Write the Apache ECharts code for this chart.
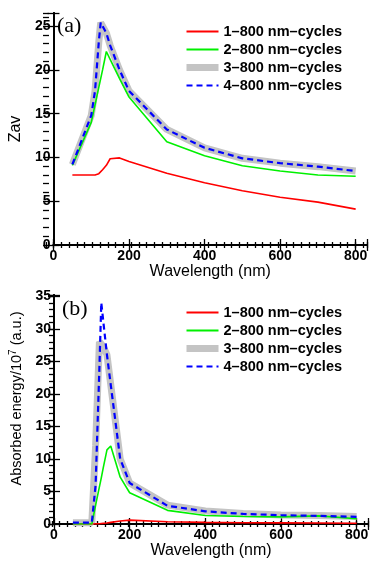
<!DOCTYPE html>
<html>
<head>
<meta charset="utf-8">
<script src="https://cdn.jsdelivr.net/npm/echarts@6/dist/echarts.min.js"></script>
<style>
  html, body { margin: 0; padding: 0; background: #fff; }
  #chart { width: 374px; height: 561px; }
</style>
</head>
<body>
<div id="chart"></div>
<script>
// wavelengths (nm) shared by every curve
const wavelength = [50, 100, 110, 120, 125, 130, 140, 150, 175, 200, 300, 400, 500, 600, 700, 800];

// (a) Zav
const zavRed   = [8.0, 8.0, 8.0, 8.15, 8.35, 8.6, 9.1, 9.85, 9.95, 9.55, 8.2, 7.1, 6.2, 5.45, 4.9, 4.1];
const zavGreen = [9.1, 14.0, 16.0, 18.0, 19.0, 20.0, 22.1, 21.2, 19.0, 16.9, 11.8, 10.2, 9.05, 8.45, 8.0, 7.85];
const zavGray  = [9.2, 14.8, 17.6, 23.2, 25.4, 25.0, 24.2, 22.8, 20.0, 17.6, 13.2, 11.1, 9.9, 9.35, 8.95, 8.45];
const zavBlue  = [9.2, 14.8, 17.6, 23.2, 25.4, 25.0, 24.2, 22.8, 20.0, 17.6, 13.2, 11.1, 9.9, 9.35, 8.95, 8.45];

// (b) absorbed energy / 1e7
const absRed   = [0, 0, 0.02, 0.05, 0.08, 0.1, 0.15, 0.25, 0.45, 0.6, 0.35, 0.25, 0.2, 0.17, 0.15, 0.12];
const absGreen = [0, 0, 2.9, 5.7, 7.1, 8.6, 11.4, 12.0, 7.2, 4.8, 2.1, 1.3, 1.15, 1.1, 1.25, 0.8];
const absGray  = [0.2, 0.2, 12, 28.0, 27.8, 27.3, 26.0, 21.4, 10.0, 6.3, 2.9, 2.0, 1.6, 1.4, 1.3, 1.15];
const absBlue  = [0.2, 0.2, 6, 24, 34.0, 31.3, 26.0, 21.4, 10.0, 6.3, 2.8, 1.95, 1.55, 1.35, 1.25, 1.1];

const names = ['1–800 nm–cycles', '2–800 nm–cycles', '3–800 nm–cycles', '4–800 nm–cycles'];
const xTicks = [0, 200, 400, 600, 800];

const FONT = 'Liberation Sans';
const X_MAX = 830;

function pairs(ys) {
  return wavelength.map((x, i) => [x, ys[i]]);
}

const tick = len => ({ inside: true, length: len, lineStyle: { color: '#000', width: 1.3 } });
const boxLine = { lineStyle: { color: '#000', width: 2 } };

// major grid: box lines, long ticks, labels; minor grid (same place): short ticks only
function xAxes(g, minor) {
  const base = { type: 'value', gridIndex: g, min: 0, max: X_MAX, splitLine: { show: false }, interval: minor ? 20 : 200 };
  if (minor) {
    return [
      Object.assign({}, base, { position: 'bottom', axisLine: { show: false }, axisTick: tick(3), axisLabel: { show: false } }),
      Object.assign({}, base, { position: 'top', axisLine: { show: false }, axisTick: tick(3), axisLabel: { show: false } })
    ];
  }
  return [
    Object.assign({}, base, {
      position: 'bottom', axisLine: boxLine, axisTick: tick(6),
      axisLabel: {
        margin: 4, color: '#000', fontFamily: FONT, fontWeight: 'bold', fontSize: 14,
        formatter: v => xTicks.includes(v) ? String(v) : ''
      },
      name: 'Wavelength (nm)', nameLocation: 'middle', nameGap: 19,
      nameTextStyle: { color: '#000', fontFamily: FONT, fontSize: 16 }
    }),
    Object.assign({}, base, { position: 'top', axisLine: boxLine, axisTick: tick(6), axisLabel: { show: false } })
  ];
}

function yAxes(g, max, minor, name, nameStyle, nameGap) {
  const base = { type: 'value', gridIndex: g, min: 0, max: max, splitLine: { show: false }, interval: minor ? 1 : 5 };
  if (minor) {
    return [
      Object.assign({}, base, { position: 'left', axisLine: { show: false }, axisTick: tick(3), axisLabel: { show: false } }),
      Object.assign({}, base, { position: 'right', axisLine: { show: false }, axisTick: tick(3), axisLabel: { show: false } })
    ];
  }
  return [
    Object.assign({}, base, {
      position: 'left', axisLine: boxLine, axisTick: tick(6),
      axisLabel: {
        margin: 3, color: '#000', fontFamily: FONT, fontWeight: 'bold', fontSize: 14,
        formatter: v => v % 5 === 0 ? String(v) : ''
      },
      name: name, nameLocation: 'middle', nameGap: nameGap, nameTextStyle: nameStyle
    }),
    Object.assign({}, base, { position: 'right', axisLine: boxLine, axisTick: tick(6), axisLabel: { show: false } })
  ];
}

function curves(axisIdx, red, green, gray, blue) {
  const common = { type: 'line', xAxisIndex: axisIdx, yAxisIndex: axisIdx, symbol: 'none', silent: true, animation: false };
  return [
    Object.assign({ name: names[0], data: pairs(red), z: 3, lineStyle: { color: '#ff0000', width: 1.6 }, itemStyle: { color: '#ff0000' } }, common),
    Object.assign({ name: names[1], data: pairs(green), z: 3, lineStyle: { color: '#00f000', width: 1.6 }, itemStyle: { color: '#00f000' } }, common),
    Object.assign({ name: names[2], data: pairs(gray), z: 2, lineStyle: { color: '#c4c4c4', width: 7 }, itemStyle: { color: '#c4c4c4' } }, common),
    Object.assign({ name: names[3], data: pairs(blue), z: 4, lineStyle: { color: '#0000ff', width: 2.2, type: [6, 4] }, itemStyle: { color: '#0000ff' } }, common)
  ];
}

function legend(top) {
  const noSymbol = { opacity: 0 };
  return {
    orient: 'vertical', left: 178, top: top, itemWidth: 32, itemHeight: 14, itemGap: 0, selectedMode: false,
    textStyle: { color: '#000', fontFamily: FONT, fontWeight: 'bold', fontSize: 14.5, lineHeight: 18 },
    data: [
      { name: names[0], itemStyle: noSymbol },
      { name: names[1], itemStyle: noSymbol },
      { name: names[2], itemStyle: noSymbol, lineStyle: { width: 7 } },
      { name: names[3], itemStyle: noSymbol, lineStyle: { width: 2.2 } }
    ]
  };
}

const chart = echarts.init(document.getElementById('chart'), null, { renderer: 'canvas' });

const topBox = { left: 46, top: 13, width: 321, height: 232 };
const botBox = { left: 52, top: 295, width: 316, height: 229 };

const option = {
  animation: false,
  backgroundColor: '#fff',
  grid: [topBox, topBox, botBox, botBox],
  xAxis: xAxes(0, false).concat(xAxes(1, true), xAxes(2, false), xAxes(3, true)),
  yAxis: yAxes(0, 26.5, false, 'Zav', { color: '#000', fontFamily: FONT, fontSize: 16 }, 26)
    .concat(
      yAxes(1, 26.5, true),
      yAxes(2, 35.2, false, 'Absorbed energy/10{sup|7} (a.u.)', {
        color: '#000', fontFamily: FONT, fontSize: 14.5, padding: [0, 0, 0, 22],
        rich: { sup: { fontSize: 10, fontFamily: FONT, color: '#000', verticalAlign: 'top', padding: [0, 0, 8, 0] } }
      }, 28),
      yAxes(3, 35.2, true)
    ),
  legend: [legend(17.5), legend(298.5)],
  graphic: [
    { type: 'text', left: 57, top: 15, style: { text: '(a)', fontFamily: 'Liberation Serif', fontSize: 22, fill: '#000' } },
    { type: 'text', left: 62, top: 298, style: { text: '(b)', fontFamily: 'Liberation Serif', fontSize: 22, fill: '#000' } }
  ],
  series: curves(0, zavRed, zavGreen, zavGray, zavBlue).concat(curves(4, absRed, absGreen, absGray, absBlue))
};

chart.setOption(option);
</script>
</body>
</html>
